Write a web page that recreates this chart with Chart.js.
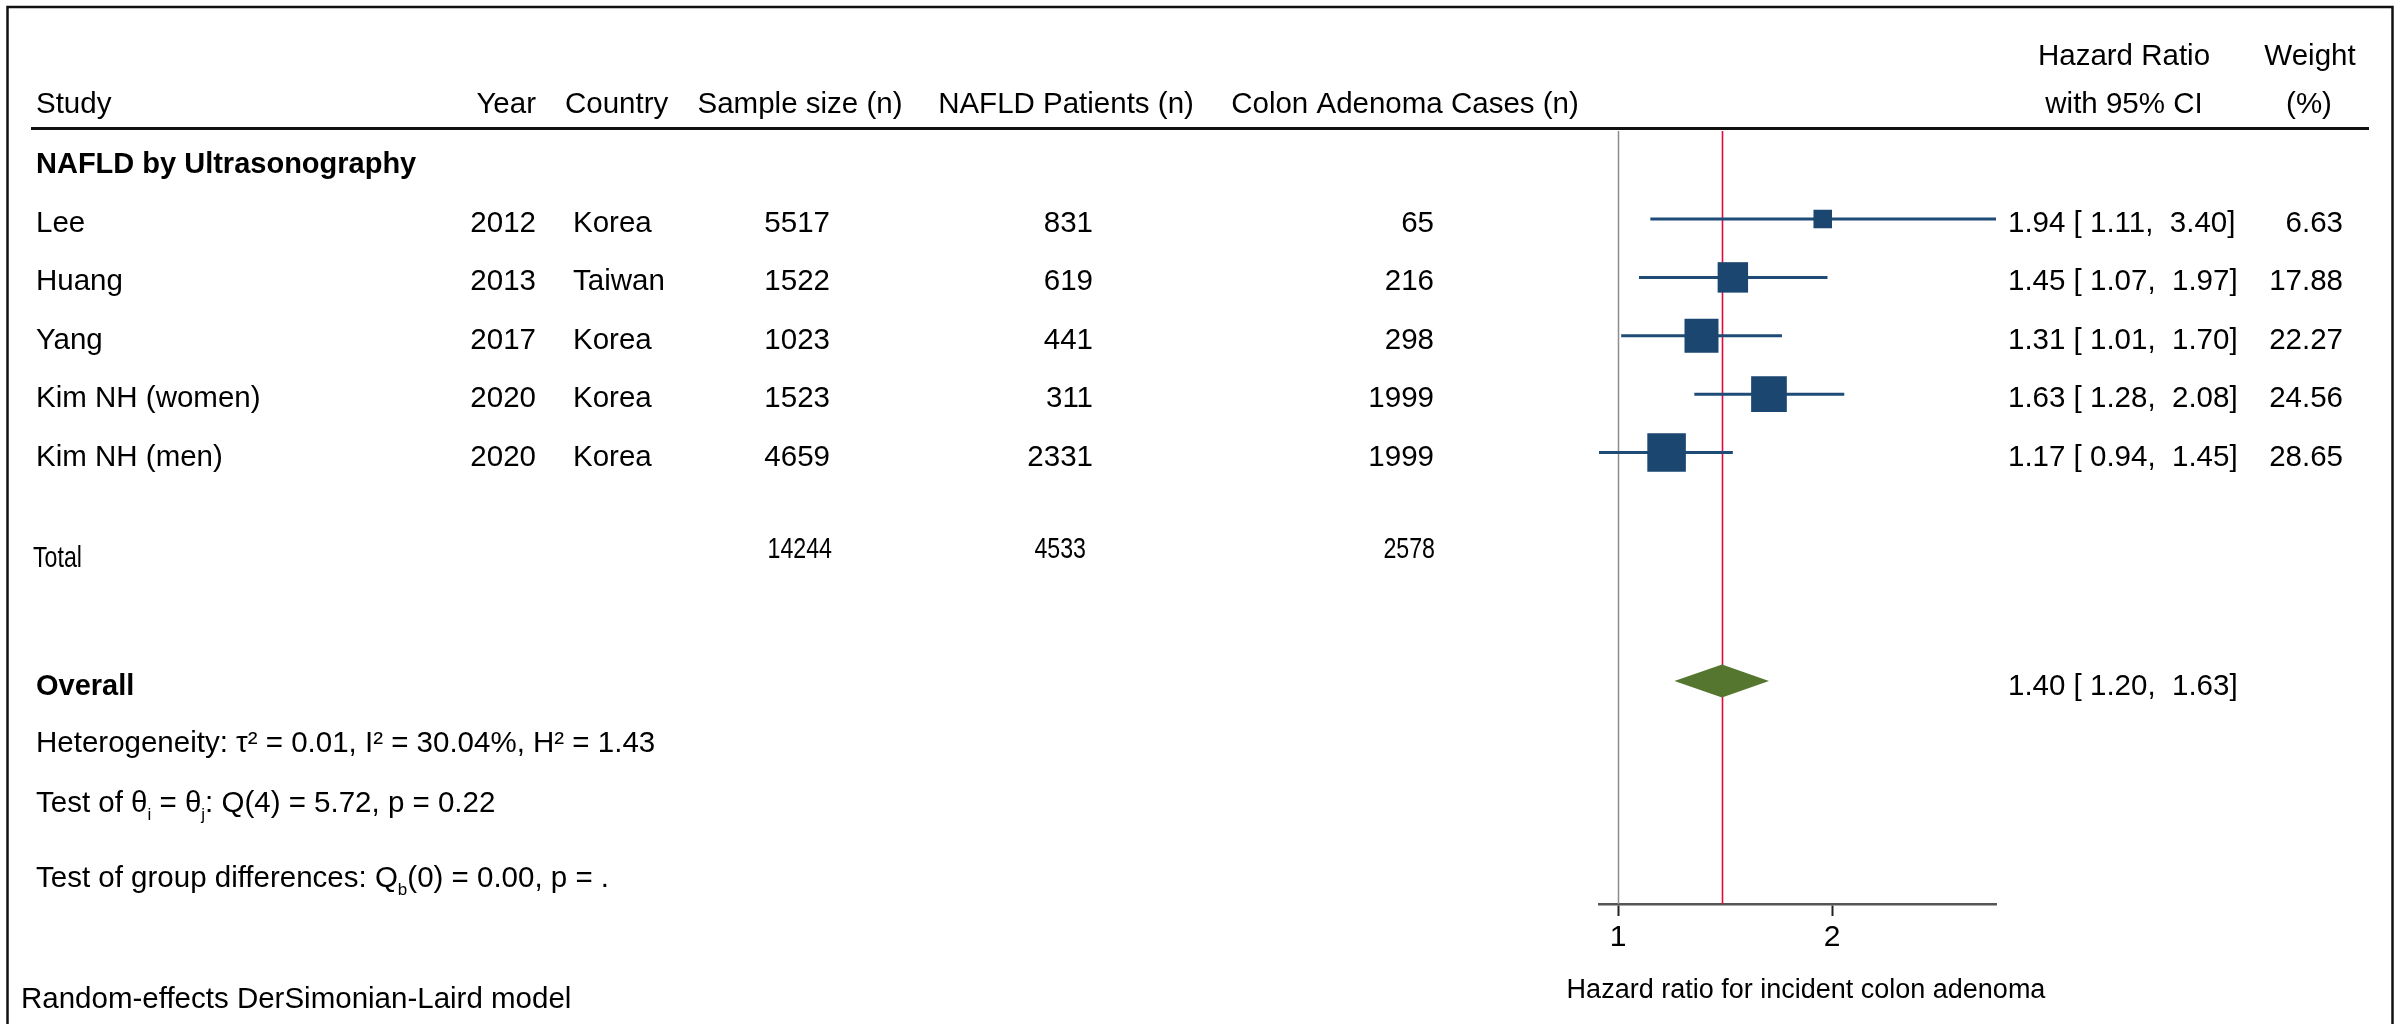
<!DOCTYPE html>
<html lang="en">
<head>
<meta charset="UTF-8">
<title>NAFLD and incident colon adenoma - forest plot</title>
<script src="https://cdn.jsdelivr.net/npm/chart.js"></script>
<style>
  html, body { margin: 0; padding: 0; background: #fff; }
  #wrap { width: 2395px; height: 1024px; position: relative; }
</style>
</head>
<body>
<div id="wrap"><canvas id="forest"></canvas></div>
<script>
// study table
const studies = ['Lee', 'Huang', 'Yang', 'Kim NH (women)', 'Kim NH (men)'];
const years = [2012, 2013, 2017, 2020, 2020];
const countries = ['Korea', 'Taiwan', 'Korea', 'Korea', 'Korea'];
const sampleSize = [5517, 1522, 1023, 1523, 4659];
const nafldPatients = [831, 619, 441, 311, 2331];
const adenomaCases = [65, 216, 298, 1999, 1999];

// effect sizes
const hazardRatio = [1.94, 1.45, 1.31, 1.63, 1.17];
const ciLower = [1.11, 1.07, 1.01, 1.28, 0.94];
const ciUpper = [3.40, 1.97, 1.70, 2.08, 1.45];
const weights = [6.63, 17.88, 22.27, 24.56, 28.65];

const totals = [14244, 4533, 2578];
const overall = [1.40, 1.20, 1.63];   // estimate, lower, upper
const xTicks = [1, 2];
const xTitle = 'Hazard ratio for incident colon adenoma';

const FONT = "'Liberation Sans', Arial, Helvetica, sans-serif";
const NAVY = '#1a4670';
const GREEN = '#55762e';
const overallRow = 8.91;

Chart.defaults.font.family = FONT;
Chart.defaults.color = '#000';

const fmt = v => v.toFixed(2);
const ciText = (e, l, u) => fmt(e) + ' [ ' + fmt(l) + ',  ' + fmt(u) + ']';

function text(ctx, s, x, y, align, font) {
    ctx.font = font || ('29.5px ' + FONT);
    ctx.textAlign = align || 'left';
    ctx.fillText(s, x, y);
}

// narrow text (Total row is set in a condensed face)
function narrow(ctx, s, x, y, align) {
    ctx.save();
    ctx.font = '29px ' + FONT;
    ctx.textAlign = align;
    ctx.translate(x, y);
    ctx.scale(0.8, 1);
    ctx.fillText(s, 0, 0);
    ctx.restore();
}

// text with subscripts: parts = [[string, isSub], ...]
function richText(ctx, parts, x, y) {
    ctx.textAlign = 'left';
    parts.forEach(([s, sub]) => {
        ctx.font = (sub ? '17px ' : '29.5px ') + FONT;
        ctx.fillText(s, x, y + (sub ? 8 : 0));
        x += ctx.measureText(s).width;
    });
}

const forestPlugin = {
    id: 'forest',
    beforeDatasetsDraw(chart) {
        const { ctx, chartArea, scales: { x } } = chart;
        ctx.save();
        // null line
        const x1 = Math.round(x.getPixelForValue(1)) + 0.5;
        ctx.strokeStyle = '#8c8c8c';
        ctx.lineWidth = 1.5;
        ctx.beginPath();
        ctx.moveTo(x1, chartArea.top);
        ctx.lineTo(x1, chartArea.bottom);
        ctx.stroke();
        // overall effect line
        const xo = Math.round(x.getPixelForValue(overall[0])) + 0.5;
        ctx.strokeStyle = '#e3083f';
        ctx.lineWidth = 1.6;
        ctx.beginPath();
        ctx.moveTo(xo, chartArea.top);
        ctx.lineTo(xo, chartArea.bottom);
        ctx.stroke();
        ctx.restore();
    },
    afterDatasetsDraw(chart) {
        const { ctx, scales: { x, y } } = chart;
        const yc = y.getPixelForValue(overallRow);
        ctx.save();
        ctx.fillStyle = GREEN;
        ctx.beginPath();
        ctx.moveTo(x.getPixelForValue(overall[1]), yc);
        ctx.lineTo(x.getPixelForValue(overall[0]), yc - 16.5);
        ctx.lineTo(x.getPixelForValue(overall[2]), yc);
        ctx.lineTo(x.getPixelForValue(overall[0]), yc + 16.5);
        ctx.closePath();
        ctx.fill();
        ctx.restore();
    },
    afterDraw(chart) {
        const { ctx, scales: { y } } = chart;
        ctx.save();
        ctx.fillStyle = '#000';
        ctx.textBaseline = 'alphabetic';

        // frame and header rule
        ctx.strokeStyle = '#111';
        ctx.lineWidth = 2.5;
        ctx.strokeRect(7.5, 7, 2385, 1100);
        ctx.lineWidth = 3;
        ctx.beginPath();
        ctx.moveTo(31, 128.5);
        ctx.lineTo(2369, 128.5);
        ctx.stroke();

        // headers
        text(ctx, 'Study', 36, 113);
        text(ctx, 'Year', 536, 113, 'right');
        text(ctx, 'Country', 565, 113);
        text(ctx, 'Sample size (n)', 800, 113, 'center');
        text(ctx, 'NAFLD Patients (n)', 1066, 113, 'center');
        text(ctx, 'Colon Adenoma Cases (n)', 1405, 113, 'center');
        text(ctx, 'Hazard Ratio', 2124, 65, 'center');
        text(ctx, 'with 95% CI', 2124, 113, 'center');
        text(ctx, 'Weight', 2310, 65, 'center');
        text(ctx, '(%)', 2309, 113, 'center');

        text(ctx, 'NAFLD by Ultrasonography', 36, 173, 'left', 'bold 29px ' + FONT);

        // study rows
        studies.forEach((s, i) => {
            const b = y.getPixelForValue(i + 1) + 13;
            text(ctx, s, 36, b);
            text(ctx, String(years[i]), 536, b, 'right');
            text(ctx, countries[i], 573, b);
            text(ctx, String(sampleSize[i]), 830, b, 'right');
            text(ctx, String(nafldPatients[i]), 1093, b, 'right');
            text(ctx, String(adenomaCases[i]), 1434, b, 'right');
            text(ctx, ciText(hazardRatio[i], ciLower[i], ciUpper[i]), 2008, b);
            text(ctx, fmt(weights[i]), 2343, b, 'right');
        });

        // totals
        narrow(ctx, 'Total', 33, 567, 'left');
        narrow(ctx, String(totals[0]), 832, 558, 'right');
        narrow(ctx, String(totals[1]), 1086, 558, 'right');
        narrow(ctx, String(totals[2]), 1435, 558, 'right');

        // overall
        const ob = y.getPixelForValue(overallRow) + 14;
        text(ctx, 'Overall', 36, ob, 'left', 'bold 29px ' + FONT);
        text(ctx, ciText(overall[0], overall[1], overall[2]), 2008, ob);

        text(ctx, 'Heterogeneity: \u03c4\u00b2 = 0.01, I\u00b2 = 30.04%, H\u00b2 = 1.43', 36, 752);
        richText(ctx, [['Test of \u03b8', false], ['i', true], [' = \u03b8', false], ['j', true],
                       [': Q(4) = 5.72, p = 0.22', false]], 36, 812);
        richText(ctx, [['Test of group differences: Q', false], ['b', true],
                       ['(0) = 0.00, p = .', false]], 36, 887);
        text(ctx, 'Random-effects DerSimonian-Laird model', 21, 1008);

        // x axis title (drawn here so it is not squeezed to the axis width)
        text(ctx, xTitle, 1806, 998, 'center', '27px ' + FONT);
        ctx.restore();
    }
};

const ciDatasets = studies.map((s, i) => ({
    label: s,
    data: [{ x: ciLower[i], y: i + 1 }, { x: ciUpper[i], y: i + 1 }],
    showLine: true,
    borderColor: '#1f4b77',
    borderWidth: 3,
    pointRadius: 0,
    clip: false,
    order: 2
}));

const squares = {
    label: 'Hazard ratio',
    data: hazardRatio.map((v, i) => ({ x: v, y: i + 1 })),
    pointStyle: 'rect',
    pointRadius: weights.map(w => 7.2 * Math.sqrt(w) / Math.SQRT2),
    backgroundColor: NAVY,
    borderWidth: 0,
    clip: false,
    order: 1
};

new Chart(document.getElementById('forest'), {
    type: 'scatter',
    data: { datasets: [...ciDatasets, squares] },
    options: {
        responsive: true,
        maintainAspectRatio: false,
        animation: false,
        devicePixelRatio: 1,
        layout: { padding: { left: 1599, right: 399, top: 131, bottom: 0 } },
        plugins: { legend: { display: false }, tooltip: { enabled: false } },
        scales: {
            x: {
                type: 'logarithmic',
                min: 0.94,
                max: 3.40,
                afterBuildTicks: s => { s.ticks = xTicks.map(v => ({ value: v })); },
                afterFit: s => { s.height = 120; },
                ticks: {
                    callback: v => String(v),
                    font: { size: 30 },
                    color: '#000',
                    padding: 4,
                    maxRotation: 0
                },
                grid: {
                    drawOnChartArea: false,
                    drawTicks: true,
                    tickLength: 12,
                    tickWidth: 2,
                    tickColor: '#222'
                },
                border: { display: true, color: '#555', width: 2.5 },
                title: { display: false }
            },
            y: {
                type: 'linear',
                display: false,
                reverse: true,
                min: -0.507,
                max: 12.73
            }
        }
    },
    plugins: [forestPlugin]
});
</script>
</body>
</html>
